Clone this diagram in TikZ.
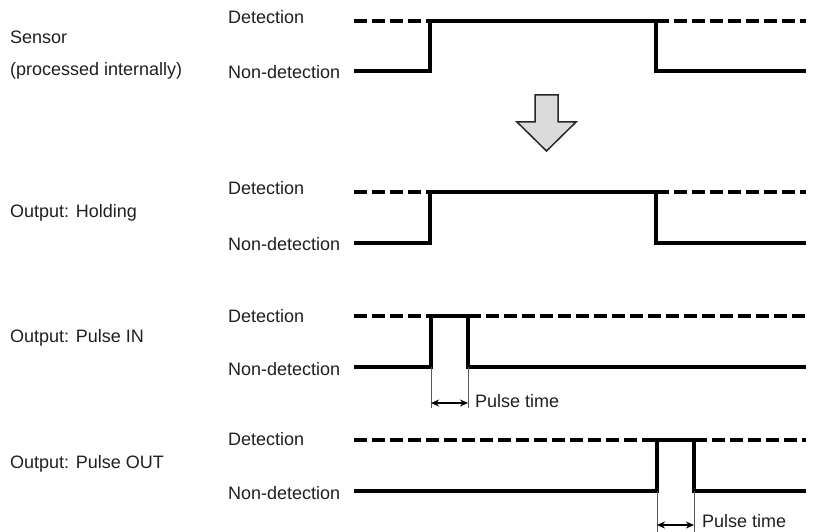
\documentclass[tikz,border=0pt]{standalone}
\usepackage{fontspec}
\setmainfont{Liberation Sans}
\usetikzlibrary{arrows.meta}

\begin{document}
\begin{tikzpicture}[x=1pt,y=-1pt,
  lbl/.style={anchor=west,inner sep=0pt,font=\fontsize{18}{21}\selectfont,text=black!88},
  sig/.style={line width=3.8pt},
  hi/.style={line width=3.8pt,dash pattern=on 13pt off 5pt},
  ext/.style={line width=0.9pt,draw=black!65},
  dim/.style={{Stealth[length=8pt,width=7pt]}-{Stealth[length=8pt,width=7pt]},line width=1.3pt}]
\useasboundingbox (0,0) rectangle (813,532);

% sensor
\node[lbl] (sn) at (10,37)  {Sensor};
\node[lbl] (sp) at (10,71)  {(processed internally)};
\node[lbl] (d1) at (228,17) {Detection};
\node[lbl] (n1) at (228,72) {Non-detection};
\draw[hi] (354,21) -- (430,21);
\draw[hi] (656,21) -- (806,21);
\draw[sig] (354,71) -- (430,71) -- (430,21) -- (656,21) -- (656,71) -- (806,71);

% hollow arrow
\draw[fill=black!14,draw=black!85,line width=1.5pt]
  (535,95) -- (558,95) -- (558,122) -- (576,122) -- (546.5,151) -- (517,122) -- (535,122) -- cycle;

% holding
\node[lbl] (oh) at (10,213)  {Output: Holding};
\node[lbl] (d2) at (228,188) {Detection};
\node[lbl] (n2) at (228,244) {Non-detection};
\draw[hi] (354,192) -- (430,192);
\draw[hi] (656,192) -- (806,192);
\draw[sig] (354,243) -- (430,243) -- (430,192) -- (656,192) -- (656,243) -- (806,243);

% pulse in
\node[lbl] (oi) at (10,338)  {Output: Pulse IN};
\node[lbl] (d3) at (228,316) {Detection};
\node[lbl] (n3) at (228,369) {Non-detection};
\draw[hi] (354,316) -- (431,316);
\draw[hi] (468,316) -- (806,316);
\draw[sig] (354,367) -- (431,367) -- (431,316) -- (468,316) -- (468,367) -- (806,367);
\draw[ext] (431,367) -- (431,408);
\draw[ext] (468,367) -- (468,408);
\coordinate (a3) at (431,403);
\coordinate (b3) at (468,403);
\draw[dim] (a3) -- (b3);
\node[lbl] (t3) at (475,401) {Pulse time};

% pulse out
\node[lbl] (oo) at (10,464)  {Output: Pulse OUT};
\node[lbl] (d4) at (228,439) {Detection};
\node[lbl] (n4) at (228,493) {Non-detection};
\draw[hi] (354,440) -- (657,440);
\draw[hi] (694,440) -- (806,440);
\draw[sig] (354,491) -- (657,491) -- (657,440) -- (694,440) -- (694,491) -- (806,491);
\draw[ext] (657,491) -- (657,532);
\draw[ext] (694,491) -- (694,532);
\coordinate (a4) at (657,525);
\coordinate (b4) at (694,525);
\draw[dim] (a4) -- (b4);
\node[lbl] (t4) at (702,521) {Pulse time};
\end{tikzpicture}
\end{document}
